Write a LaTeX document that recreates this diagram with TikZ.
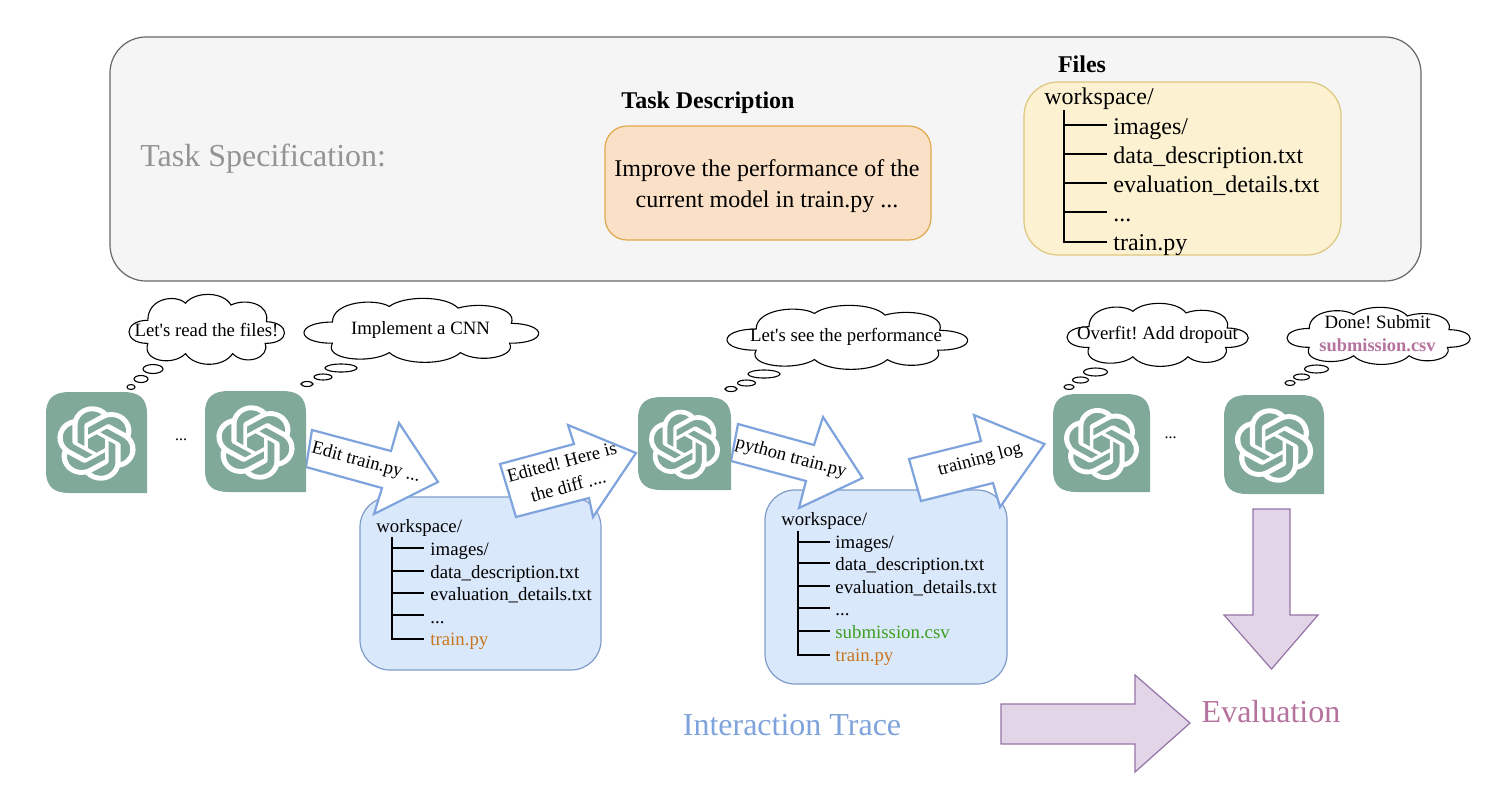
\documentclass[tikz,border=0pt]{standalone}
\usepackage{fontspec}
\setmainfont{Liberation Serif}
\newfontfamily\plainserif{Liberation Serif}
\usetikzlibrary{svg.path}
\frenchspacing
\definecolor{logoteal}{HTML}{80A99A}
\definecolor{blueline}{HTML}{7FA3DC}
\definecolor{wsfill}{HTML}{DAE8FC}
\definecolor{wsline}{HTML}{7F9CC9}
\definecolor{purpfill}{HTML}{E1D5E7}
\definecolor{purpline}{HTML}{9673A6}
\definecolor{purptext}{HTML}{B5739D}
\definecolor{orangetext}{HTML}{C8761E}
\definecolor{greentext}{HTML}{3E9E1E}
\definecolor{descfill}{HTML}{FAE0C6}
\definecolor{descline}{HTML}{E0A94A}
\definecolor{filefill}{HTML}{FCF1D0}
\definecolor{fileline}{HTML}{DEC67E}
\newcommand{\fsz}[1]{\fontsize{#1}{#1}\selectfont}
\newcommand{\fszb}[2]{\fontsize{#1}{#2}\selectfont}
\tikzset{
  roundbox/.style={draw,line width=0.6pt},
  blockarrow/.style={draw=blueline,fill=white,line width=1.1pt,line join=miter},
  purparrow/.style={draw=purpline,fill=purpfill,line width=0.6pt,line join=miter},
  cloudline/.style={draw=black,fill=white,line width=0.55pt},
  arrowtext/.style={inner sep=0pt,font=\fsz{9.3}},
  thinktext/.style={inner sep=0pt,font=\fsz{9.4},align=center},
  treetext/.style={inner sep=0pt,anchor=base west},
  treeline/.style={draw=black,line width=1pt},
  bubble/.style={draw=black,fill=white,line width=0.55pt}
}
\newcommand{\knot}{\path[fill=white,even odd rule] svg {M 22.2819 9.8211 a 5.9847 5.9847 0 0 0 -0.5157 -4.9108 a 6.0462 6.0462 0 0 0 -6.5098 -2.9 A 6.0651 6.0651 0 0 0 4.9807 4.1818 a 5.9847 5.9847 0 0 0 -3.9977 2.9 a 6.0462 6.0462 0 0 0 0.7427 7.0966 a 5.98 5.98 0 0 0 0.511 4.9107 a 6.051 6.051 0 0 0 6.5146 2.9001 A 5.9847 5.9847 0 0 0 13.2599 24 a 6.0557 6.0557 0 0 0 5.7718 -4.2058 a 5.9894 5.9894 0 0 0 3.9977 -2.9001 a 6.0557 6.0557 0 0 0 -0.7475 -7.0729 z
M 13.2599 22.4292 a 4.4755 4.4755 0 0 1 -2.8764 -1.0408 l 0.1419 -0.0804 l 4.7783 -2.7582 a 0.7948 0.7948 0 0 0 0.3927 -0.6813 v -6.7369 l 2.02 1.1686 l 0.038 0.052 v 5.5826 a 4.504 4.504 0 0 1 -4.4945 4.4944 z
M 3.5992 18.3038 a 4.4708 4.4708 0 0 1 -0.5346 -3.0137 l 0.142 0.0852 l 4.783 2.7582 a 0.7712 0.7712 0 0 0 0.7806 0 l 5.8428 -3.3685 v 2.3324 l -0.0332 0.0615 L 9.74 19.9502 a 4.4992 4.4992 0 0 1 -6.1408 -1.6464 z
M 2.3408 7.8956 a 4.485 4.485 0 0 1 2.3655 -1.9728 V 11.6 a 0.7664 0.7664 0 0 0 0.3879 0.6765 l 5.8144 3.3543 l -2.0201 1.1685 l -0.071 0 l -4.8303 -2.7865 A 4.504 4.504 0 0 1 2.3408 7.8956 z
M 18.9371 11.7514 L 13.1038 8.364 L 15.1192 7.2 l 0.071 0 l 4.8303 2.7913 a 4.4944 4.4944 0 0 1 -0.6765 8.1042 v -5.6772 a 0.79 0.79 0 0 0 -0.407 -0.667 z
M 20.9478 8.7283 l -0.142 -0.0852 l -4.7735 -2.7818 a 0.7759 0.7759 0 0 0 -0.7854 0 L 9.409 9.2297 V 6.8974 l 0.0284 -0.0615 l 4.8303 -2.7866 a 4.4992 4.4992 0 0 1 6.6802 4.66 z
M 8.3065 12.863 l -2.02 -1.1638 l -0.038 -0.0567 V 6.0742 a 4.4992 4.4992 0 0 1 7.3757 -3.4537 l -0.142 0.0805 L 8.704 5.459 a 0.7948 0.7948 0 0 0 -0.3927 0.6813 z
M 9.4041 10.4976 l 2.602 -1.4998 l 2.6069 1.4998 v 2.9994 l -2.5974 1.4997 l -2.6067 -1.4997 z};}
\newcommand{\logobox}[7]{%
  \path[fill=logoteal] (#2,#3+22) .. controls (#2,#3+6) and (#2+8,#3) .. (#2+24,#3) -- (#4-24,#3) .. controls (#4-8,#3) and (#4,#3+6) .. (#4,#3+22) -- (#4,#5) -- (#2+24,#5) .. controls (#2+8,#5) and (#2,#5-6) .. (#2,#5-22) -- cycle;
  \coordinate (#1) at ({(#2+#4)/2},{(#3+#5)/2+1});
  \begin{scope}[shift={(#1)},xscale=#6,yscale=-#7,shift={(-12pt,-12pt)}]
    \knot
  \end{scope}
}
\newcommand{\thought}[5]{%
  \begin{scope}[shift={(#2,#3)},xscale={#4-#2},yscale={#5-#3}]
    \path[cloudline] (0.12,.37) .. controls (0.12,0.05) and (0.30,0.0) .. (0.36,0.13)
      .. controls (0.42,-0.04) and (0.60,-0.04) .. (0.65,0.155)
      .. controls (0.75,0.05) and (0.90,0.15) .. (0.875,0.39)
      .. controls (1.03,0.40) and (1.03,0.70) .. (0.867,0.695)
      .. controls (0.90,0.90) and (0.74,1.02) .. (0.66,0.84)
      .. controls (0.60,1.04) and (0.42,1.04) .. (0.36,0.84)
      .. controls (0.28,1.02) and (0.08,0.95) .. (0.12,0.695)
      .. controls (-0.04,0.70) and (-0.04,0.37) .. (0.12,.37) -- cycle;
  \end{scope}}
\begin{document}
\begin{tikzpicture}[x=0.5pt,y=-0.5pt]
\useasboundingbox (0,0) rectangle (1498,788);
\fill[white] (0,0) rectangle (1498,788);
% task specification
\draw[roundbox,draw=black!60,fill=black!4,rounded corners=18pt] (110,37) rectangle (1421,281);
\node[inner sep=0pt,anchor=west,text=black!42,font=\fsz{16}] (spec) at (140,159) {Task Specification:};
\node[inner sep=0pt,font=\bfseries\fsz{12}] (desctitle) at (708,103) {Task Description};
\draw[roundbox,draw=descline,fill=descfill,rounded corners=11pt] (605,126) rectangle (931,240);
\node[inner sep=0pt,align=center,font=\fszb{12}{15.5}] (desc) at (767,186) {Improve the performance of the\\current model in train.py ...};
\node[inner sep=0pt,font=\bfseries\fsz{12}] (filestitle) at (1082,64) {Files};
\draw[roundbox,draw=fileline,fill=filefill,rounded corners=17pt] (1024,82) rectangle (1341,255);
\begin{scope}[font=\fsz{12}]
\node[treetext] (w0) at (1044,104) {workspace/};
\draw[treeline] (1064,110) -- (1064,242) -- (1107,242);
\foreach \yy in {125,154,183,212} \draw[treeline] (1064,\yy) -- (1107,\yy);
\node[treetext] (w0a) at (1113,134) {images/};
\node[treetext] (w0b) at (1113,163) {data\_description.txt};
\node[treetext] (w0c) at (1113,192) {evaluation\_details.txt};
\node[treetext] (w0d) at (1113,221) {...};
\node[treetext] (w0e) at (1113,250) {train.py};
\end{scope}
% workspace 1
\draw[roundbox,draw=wsline,fill=wsfill,rounded corners=15pt] (360,497) rectangle (601,670);
\begin{scope}[font=\fsz{9.4}]
\node[treetext] (w1) at (376,532) {workspace/};
\draw[treeline] (391.5,537) -- (391.5,639) -- (424,639);
\foreach \yy in {548,571,593,615} \draw[treeline] (391.5,\yy) -- (424,\yy);
\node[treetext] (w1a) at (430,555) {images/};
\node[treetext] (w1b) at (430,578) {data\_description.txt};
\node[treetext] (w1c) at (430,600) {evaluation\_details.txt};
\node[treetext] (w1d) at (430,623) {...};
\node[treetext,text=orangetext] (w1e) at (430,645) {train.py};
\end{scope}
% workspace 2
\draw[roundbox,draw=wsline,fill=wsfill,rounded corners=15pt] (765,490) rectangle (1007,684);
\begin{scope}[font=\fsz{9.4}]
\node[treetext] (w2) at (781,525) {workspace/};
\draw[treeline] (797.5,531) -- (797.5,655) -- (830,655);
\foreach \yy in {542,563,586,608,631} \draw[treeline] (797.5,\yy) -- (830,\yy);
\node[treetext] (w2a) at (835,548) {images/};
\node[treetext] (w2b) at (835,570) {data\_description.txt};
\node[treetext] (w2c) at (835,593) {evaluation\_details.txt};
\node[treetext] (w2d) at (835,615) {...};
\node[treetext,text=greentext] (w2e) at (835,638) {submission.csv};
\node[treetext,text=orangetext] (w2f) at (835,661) {train.py};
\end{scope}
% block arrows
\draw[blockarrow] (312,430) -- (391,451) -- (399,423) -- (438,482) -- (374,514) -- (382,488) -- (306,467) -- cycle;
\draw[blockarrow] (500,464) -- (574,444) -- (568,425) -- (636,453) -- (593,517) -- (589,498) -- (516,517) -- cycle;
\draw[blockarrow] (738,424) -- (814,445) -- (823,417) -- (862.5,478) -- (799,508) -- (806,481) -- (731,461) -- cycle;
\draw[blockarrow] (909,459) -- (981,441) -- (974,415) -- (1044.5,444) -- (1000,507) -- (993,483) -- (921,501) -- cycle;
\node[arrowtext,rotate=-15] (t1) at (366,463) {Edit train.py ...};
\node[arrowtext,rotate=15,align=center,font=\fszb{9.3}{12.5}] (t2) at (565,474) {Edited! Here is\\the diff ....};
\node[arrowtext,rotate=-15] (t3) at (791,458) {python train.py};
\node[arrowtext,rotate=15] (t4) at (980,460) {training log};
% logos
\logobox{a1}{46}{392}{147}{493}{1.65}{1.55}
\logobox{a2}{205}{391}{306}{492}{1.65}{1.55}
\logobox{a3}{638}{397}{731}{490}{1.5}{1.45}
\logobox{a4}{1053}{394}{1150}{492}{1.58}{1.5}
\logobox{a5}{1224}{395}{1324}{494}{1.65}{1.55}
\node[inner sep=0pt,font=\fsz{8}] (dots1) at (181,440) {...};
\node[inner sep=0pt,font=\fsz{8}] (dots2) at (1170.5,438) {...};
% clouds
\thought{c1}{129}{294}{286}{365}
\thought{c2}{304}{298}{541}{363}
\thought{c3}{727}{305}{970}{370}
\thought{c4}{1067}{303}{1250}{367}
\thought{c5}{1287}{307}{1472}{365}
\foreach \cx/\cy/\rx/\ry in {153/369/10/4.5,141/379/7/3.5,131/387/4/2.5,
  341/368/16/4,323/377/9/3,307/384/6/2.5,
  764/374/16/4,746.5/383/9/3,731/389/6/2.5,
  1095.5/372/12/4,1080.5/380/8/3,1069/387/5/2.5,
  1316.5/369/12/4,1301.5/377/8/3,1290/383/5/2.5}
  \draw[bubble] (\cx,\cy) ellipse [x radius=\rx,y radius=\ry];
\node[thinktext] (n1) at (206.5,330) {Let{\plainserif'}s read the files!};
\node[thinktext] (n2) at (420.5,330) {Implement a CNN};
\node[thinktext] (n3) at (846,337) {Let{\plainserif'}s see the performance};
\node[thinktext] (n4) at (1157.5,335) {Overfit! Add dropout};
\node[thinktext] (n5) at (1377.5,322) {Done! Submit};
\node[thinktext,text=purptext,font=\bfseries\fsz{9.2}] (n6) at (1377.5,345) {submission.csv};
% evaluation arrows
\draw[purparrow] (1253,509) -- (1290,509) -- (1290,615) -- (1318,615) -- (1271.5,669) -- (1224,615) -- (1253,615) -- cycle;
\draw[purparrow] (1001,704) -- (1135,704) -- (1135,675) -- (1190,723) -- (1135,772) -- (1135,744) -- (1001,744) -- cycle;
\node[inner sep=0pt,text=blueline,font=\fsz{16}] (trace) at (792,725) {Interaction Trace};
\node[inner sep=0pt,text=purptext,font=\fsz{16}] (eval) at (1271,712) {Evaluation};
\end{tikzpicture}
\end{document}
